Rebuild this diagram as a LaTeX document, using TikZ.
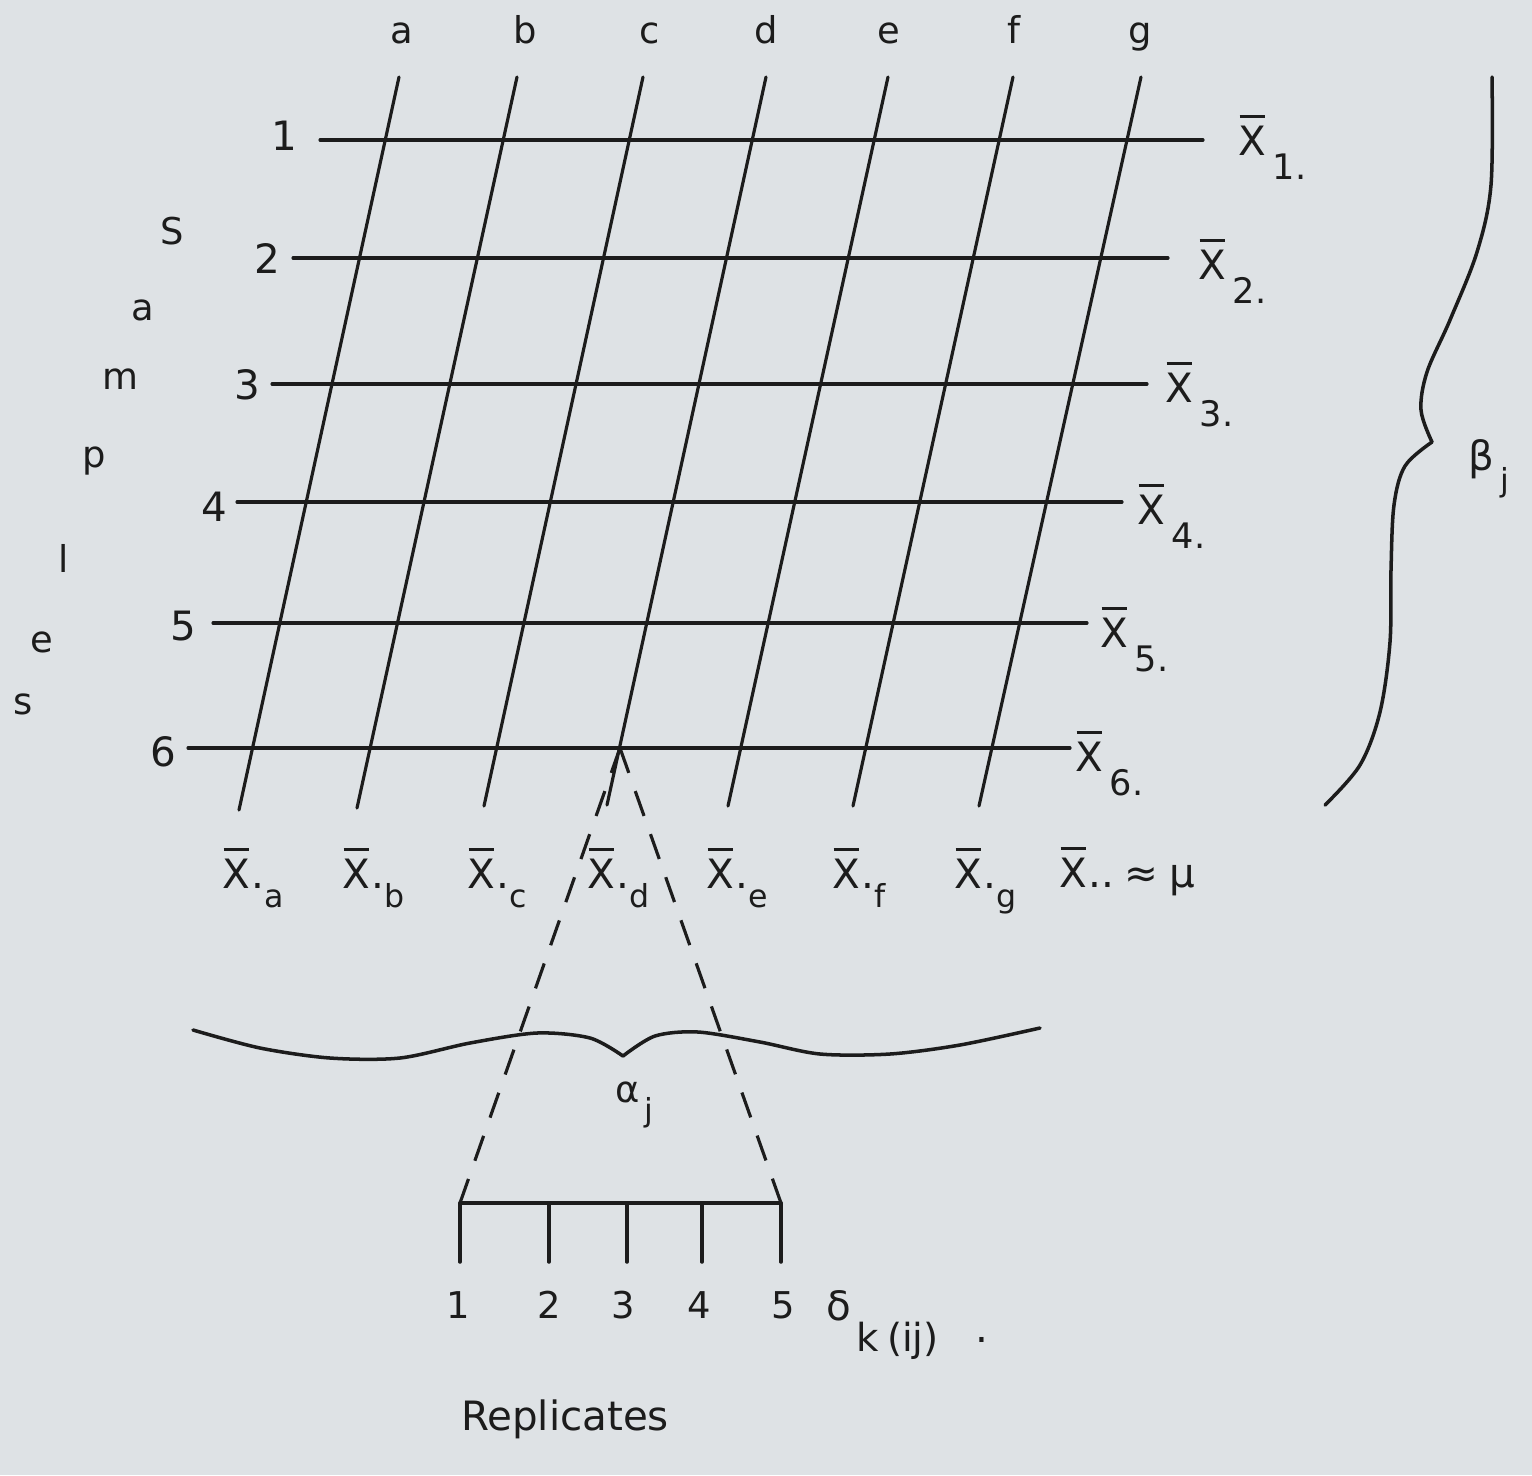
\documentclass[tikz,border=0pt]{standalone}
\usepackage{fontspec}
\setmainfont{DejaVu Sans}
\definecolor{paper}{RGB}{222,226,229}
\definecolor{ink}{RGB}{28,28,28}
\newcommand\myxbar{\leavevmode\vbox{\offinterlineskip\hbox{\kern0.04em\vrule height1.7pt depth0pt width0.62em}\kern4.5pt\hbox{X}}}
\newcommand\subsz{\fontsize{18}{20}\selectfont}
\newcommand\mysub[1]{\raisebox{-14pt}{\fontsize{20}{22}\selectfont #1}}
\begin{document}
\begin{tikzpicture}[x=0.02cm,y=-0.02cm, line cap=round, line join=round,
  every node/.style={inner sep=0pt, outer sep=0pt, text=ink},
  gridline/.style={draw=ink, line width=1.8pt},
  dashline/.style={draw=ink, line width=1.8pt, dash pattern=on 15pt off 11pt, line cap=butt},
  bracepath/.style={draw=ink, line width=2pt},
  big/.style={font=\fontsize{23}{26}\selectfont},
  mid/.style={font=\fontsize{21}{24}\selectfont}]
\fill[paper] (0,0) rectangle (1532,1475);
\useasboundingbox (0,0) rectangle (1532,1475);

% column lines
\foreach \n/\tx/\bx/\by in {a/399/239/810, b/517/357/808, c/643/484/806, d/766/607/805, e/888/728/806, f/1013/853/806, g/1141/979/806} {
  \coordinate (t\n) at (\tx,77);
  \coordinate (b\n) at (\bx,\by);
  \draw[gridline] (t\n) -- (b\n);
}
% column labels
\foreach \n/\x in {a/402,b/525,c/650,d/766,e/889,f/1014,g/1140}
  \node[mid, anchor=base] (lab\n) at (\x,43) {\n};

% row lines
\foreach \r/\xs/\xe/\y in {1/320/1203/140, 2/293/1168/258, 3/272/1147/384, 4/237/1122/502, 5/213/1087/623, 6/188/1070/748} {
  \coordinate (rs\r) at (\xs,\y);
  \coordinate (re\r) at (\xe,\y);
  \draw[gridline] (rs\r) -- (re\r);
}
% row numbers
\foreach \r/\x/\y in {1/284/136, 2/267/258, 3/247/385, 4/214/507, 5/183/626, 6/163/752}
  \node[big] (num\r) at (\x,\y) {\r};
% row means
\foreach \r/\x/\y in {1/1238/155, 2/1198/279, 3/1165/402, 4/1137/524, 5/1100/647, 6/1075/771}
  \node[big, anchor=base west] (rm\r) at (\x,\y) {\myxbar\kern4pt\mysub{\r.}};
% column means
\foreach \n/\x in {a/222,b/342,c/467,d/587,e/706,f/832,g/954}
  \node[big, anchor=base west] (cm\n) at (\x,888) {\myxbar\kern1pt.\raisebox{-11pt}{\subsz\n}};
\node[big, anchor=base west] (grand) at (1059,887) {\myxbar\kern1pt..\kern6pt≈\kern6ptμ};

% Samples
\foreach \c/\x/\y in {S/172/244, a/143/320, m/120/389, p/94/467, l/64/572, e/42/652, s/23/714}
  \node[mid, anchor=base] (sam\c) at (\x,\y) {\c};

% beta brace
\draw[bracepath] plot[smooth, tension=0.55] coordinates {(1492,77) (1491,185) (1477,252) (1450,320) (1427,372) (1421,410) (1432,442)};
\draw[bracepath] plot[smooth, tension=0.55] coordinates {(1432,442) (1405,466) (1394,505) (1391,570) (1390,642) (1380,712) (1360,765) (1325,805)};
\node[big, anchor=base west] (beta) at (1468,470) {β\kern4pt\raisebox{-12pt}{\subsz j}};

% dashed fan
\coordinate (apex) at (620,748);
\coordinate (rl) at (460,1203);
\coordinate (rr) at (781,1203);
\draw[dashline] (apex) -- (rl);
\draw[dashline] (apex) -- (rr);

% alpha brace
\draw[bracepath] plot[smooth] coordinates {(193,1030) (260,1048) (330,1058) (400,1058) (470,1043) (537,1033) (590,1038) (623,1056)};
\draw[bracepath] plot[smooth] coordinates {(623,1056) (655,1036) (698,1032) (760,1042) (820,1054) (890,1054) (960,1045) (1040,1028)};
\node[mid, anchor=base west] (alpha) at (615,1102) {α\kern3pt\raisebox{-11pt}{\subsz j}};

% replicates
\draw[gridline] (rl) -- (rr);
\foreach \k/\x in {1/460,2/549,3/627,4/702,5/781} {
  \coordinate (tk\k) at (\x,1203);
  \coordinate (tb\k) at (\x,1262);
  \draw[gridline, line width=2pt] (tk\k) -- (tb\k);
}
\foreach \k/\x in {1/458,2/549,3/623,4/699,5/783}
  \node[mid, anchor=base] (rep\k) at (\x,1318) {\k};
\node[big, anchor=base west] (delta) at (826,1320) {δ\kern3pt\raisebox{-18pt}{\fontsize{22}{24}\selectfont k\kern5pt(ij)}};
\node[big, anchor=base] (stop) at (982,1342) {.};
\node[big, anchor=base] (replab) at (565,1430) {Replicates};
\end{tikzpicture}
\end{document}
